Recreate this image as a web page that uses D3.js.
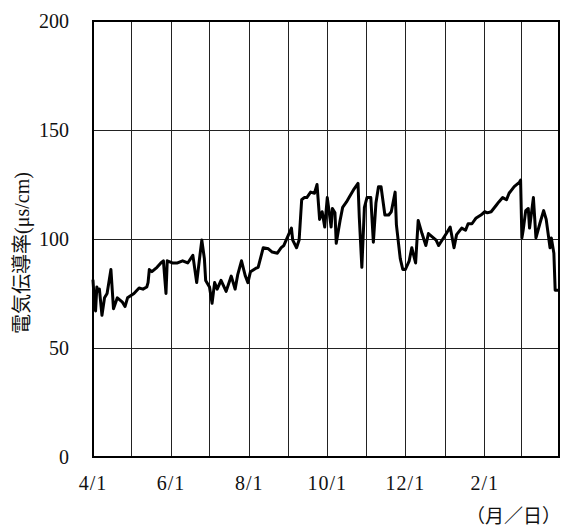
<!DOCTYPE html>
<html><head><meta charset="utf-8">
<script src="https://cdn.jsdelivr.net/npm/d3@7"></script>
<style>
html,body{margin:0;padding:0;background:#fff;}
svg{display:block;}
</style></head>
<body>
<script>
const dates = ["2015-04-01","2015-04-02","2015-04-03","2015-04-04","2015-04-05","2015-04-06","2015-04-08","2015-04-10","2015-04-12","2015-04-15","2015-04-17","2015-04-20","2015-04-24","2015-04-26","2015-04-28",
"2015-05-03","2015-05-07","2015-05-10","2015-05-13","2015-05-14","2015-05-15","2015-05-17","2015-05-21","2015-05-24","2015-05-26","2015-05-28","2015-05-29",
"2015-06-02","2015-06-06","2015-06-10","2015-06-14","2015-06-18","2015-06-21","2015-06-23","2015-06-25","2015-06-27","2015-06-28",
"2015-07-01","2015-07-03","2015-07-05","2015-07-07","2015-07-10","2015-07-14","2015-07-18","2015-07-21","2015-07-23","2015-07-26","2015-07-29","2015-07-31",
"2015-08-02","2015-08-06","2015-08-08","2015-08-12","2015-08-16","2015-08-19","2015-08-23","2015-08-26","2015-08-28","2015-08-31",
"2015-09-03","2015-09-04","2015-09-07","2015-09-09","2015-09-11","2015-09-13","2015-09-15","2015-09-18","2015-09-21","2015-09-23","2015-09-25","2015-09-27","2015-09-29",
"2015-10-01","2015-10-04","2015-10-05","2015-10-07","2015-10-08","2015-10-11","2015-10-13","2015-10-16","2015-10-18","2015-10-22","2015-10-25","2015-10-26","2015-10-28","2015-10-30",
"2015-11-01","2015-11-04","2015-11-06","2015-11-08","2015-11-10","2015-11-12","2015-11-15","2015-11-18","2015-11-20","2015-11-23","2015-11-24","2015-11-27","2015-11-29",
"2015-12-01","2015-12-04","2015-12-06","2015-12-09","2015-12-11","2015-12-14","2015-12-17","2015-12-19","2015-12-22","2015-12-25","2015-12-27",
"2016-01-02","2016-01-05","2016-01-08","2016-01-10","2016-01-14","2016-01-17","2016-01-19","2016-01-22","2016-01-25","2016-01-29",
"2016-02-01","2016-02-03","2016-02-06","2016-02-10","2016-02-12","2016-02-15","2016-02-18","2016-02-20","2016-02-24","2016-02-28","2016-02-29",
"2016-03-01","2016-03-02","2016-03-04","2016-03-06","2016-03-07","2016-03-10","2016-03-12","2016-03-15","2016-03-18","2016-03-20","2016-03-23","2016-03-24","2016-03-26","2016-03-27","2016-03-29"];
const values = [81,72,67,78,76,77,65,73,75,86,68,73,71,69,73,
75,77.5,77,78,80,86,85,87,89,90,75,90,
89,89,90,89,92.5,80,90,99.5,91,81,
78,70.5,80,77,81,76,83,77,83.5,90,83,80,
85,86.5,87,96,95.5,94,93.5,96,97,101,
105,99.5,96,99.5,118,119,119,121.5,121,125,109,112.5,105.5,
119,105.5,114,112,98,108.5,114.5,117,119,123,125.5,110,87,114.5,
119,119,98.5,116.5,124,124,111,111,112.5,121.5,106.5,91,86,
86,90,96,89,108.5,102.5,97,102.5,101,99.5,97,
102.5,105.5,96,102,105,104,107,107,109.5,111,
112.5,112,112.5,115.5,117,119,118,121,124,126,127,
100.5,104,113,114,105,119,100.5,107,113,109,96,100.5,93.5,76.5,76.5];
const yTicks = [0,50,100,150,200];
const xTickLabels = ["4/1","6/1","8/1","10/1","12/1","2/1"];
const yLabel = "電気伝導率(μs/cm)";
const xUnit = "（月／日）";

const W=561,H=531;
const m={left:93,top:21,right:559,bottom:457};
const parse=d3.timeParse("%Y-%m-%d");
const data=dates.map((d,i)=>({date:parse(d),v:values[i]}));
const x=d3.scaleTime().domain([parse("2015-04-01"),parse("2016-03-30")]).range([m.left,m.right]);
const y=d3.scaleLinear().domain([0,200]).range([m.bottom,m.top]);

const svg=d3.select("body").append("svg").attr("width",W).attr("height",H);
const serif="'Liberation Serif','DejaVu Serif','Noto Sans CJK JP',serif";

// grid
const months=d3.timeMonth.range(parse("2015-05-01"),parse("2016-03-30"));
svg.append("g").selectAll("line").data(months).join("line")
  .attr("x1",d=>x(d)).attr("x2",d=>x(d)).attr("y1",m.top).attr("y2",m.bottom)
  .attr("stroke","#222").attr("stroke-width",1).attr("shape-rendering","crispEdges");
svg.append("g").selectAll("line").data(yTicks.filter(t=>t>0&&t<200)).join("line")
  .attr("x1",m.left).attr("x2",m.right).attr("y1",d=>y(d)).attr("y2",d=>y(d))
  .attr("stroke","#222").attr("stroke-width",1).attr("shape-rendering","crispEdges");

// line
const line=d3.line().x(d=>x(d.date)).y(d=>y(d.v));
svg.append("path").datum(data).attr("d",line).attr("fill","none")
  .attr("stroke","#000").attr("stroke-width",3).attr("stroke-linejoin","round").attr("stroke-linecap","round");

// frame
svg.append("rect").attr("x",m.left).attr("y",m.top).attr("width",m.right-m.left).attr("height",m.bottom-m.top)
  .attr("fill","none").attr("stroke","#000").attr("stroke-width",2);

// y axis labels
svg.append("g").selectAll("text").data(yTicks).join("text")
  .attr("x",69).attr("y",d=>y(d)).attr("dy","0.35em").attr("text-anchor","end")
  .attr("font-family",serif).attr("font-size",20).attr("fill","#111").text(d=>d);

// x axis labels
const xTickDates=xTickLabels.map(s=>{const [mo,da]=s.split("/").map(Number);return new Date(mo>=4?2015:2016,mo-1,da);});
svg.append("g").selectAll("text").data(xTickLabels).join("text")
  .attr("x",(d,i)=>x(xTickDates[i])).attr("y",490).attr("text-anchor","middle")
  .attr("font-family",serif).attr("font-size",20).attr("letter-spacing",1).attr("fill","#111").text(d=>d);

svg.append("text").attr("x",561).attr("y",523).attr("text-anchor","end")
  .attr("font-family",serif).attr("font-size",19).attr("fill","#111").text(xUnit);

svg.append("text").attr("transform","translate(29,253) rotate(-90)").attr("text-anchor","middle")
  .attr("font-family",serif).attr("font-size",20).attr("fill","#111").text(yLabel);
</script>
</body></html>
